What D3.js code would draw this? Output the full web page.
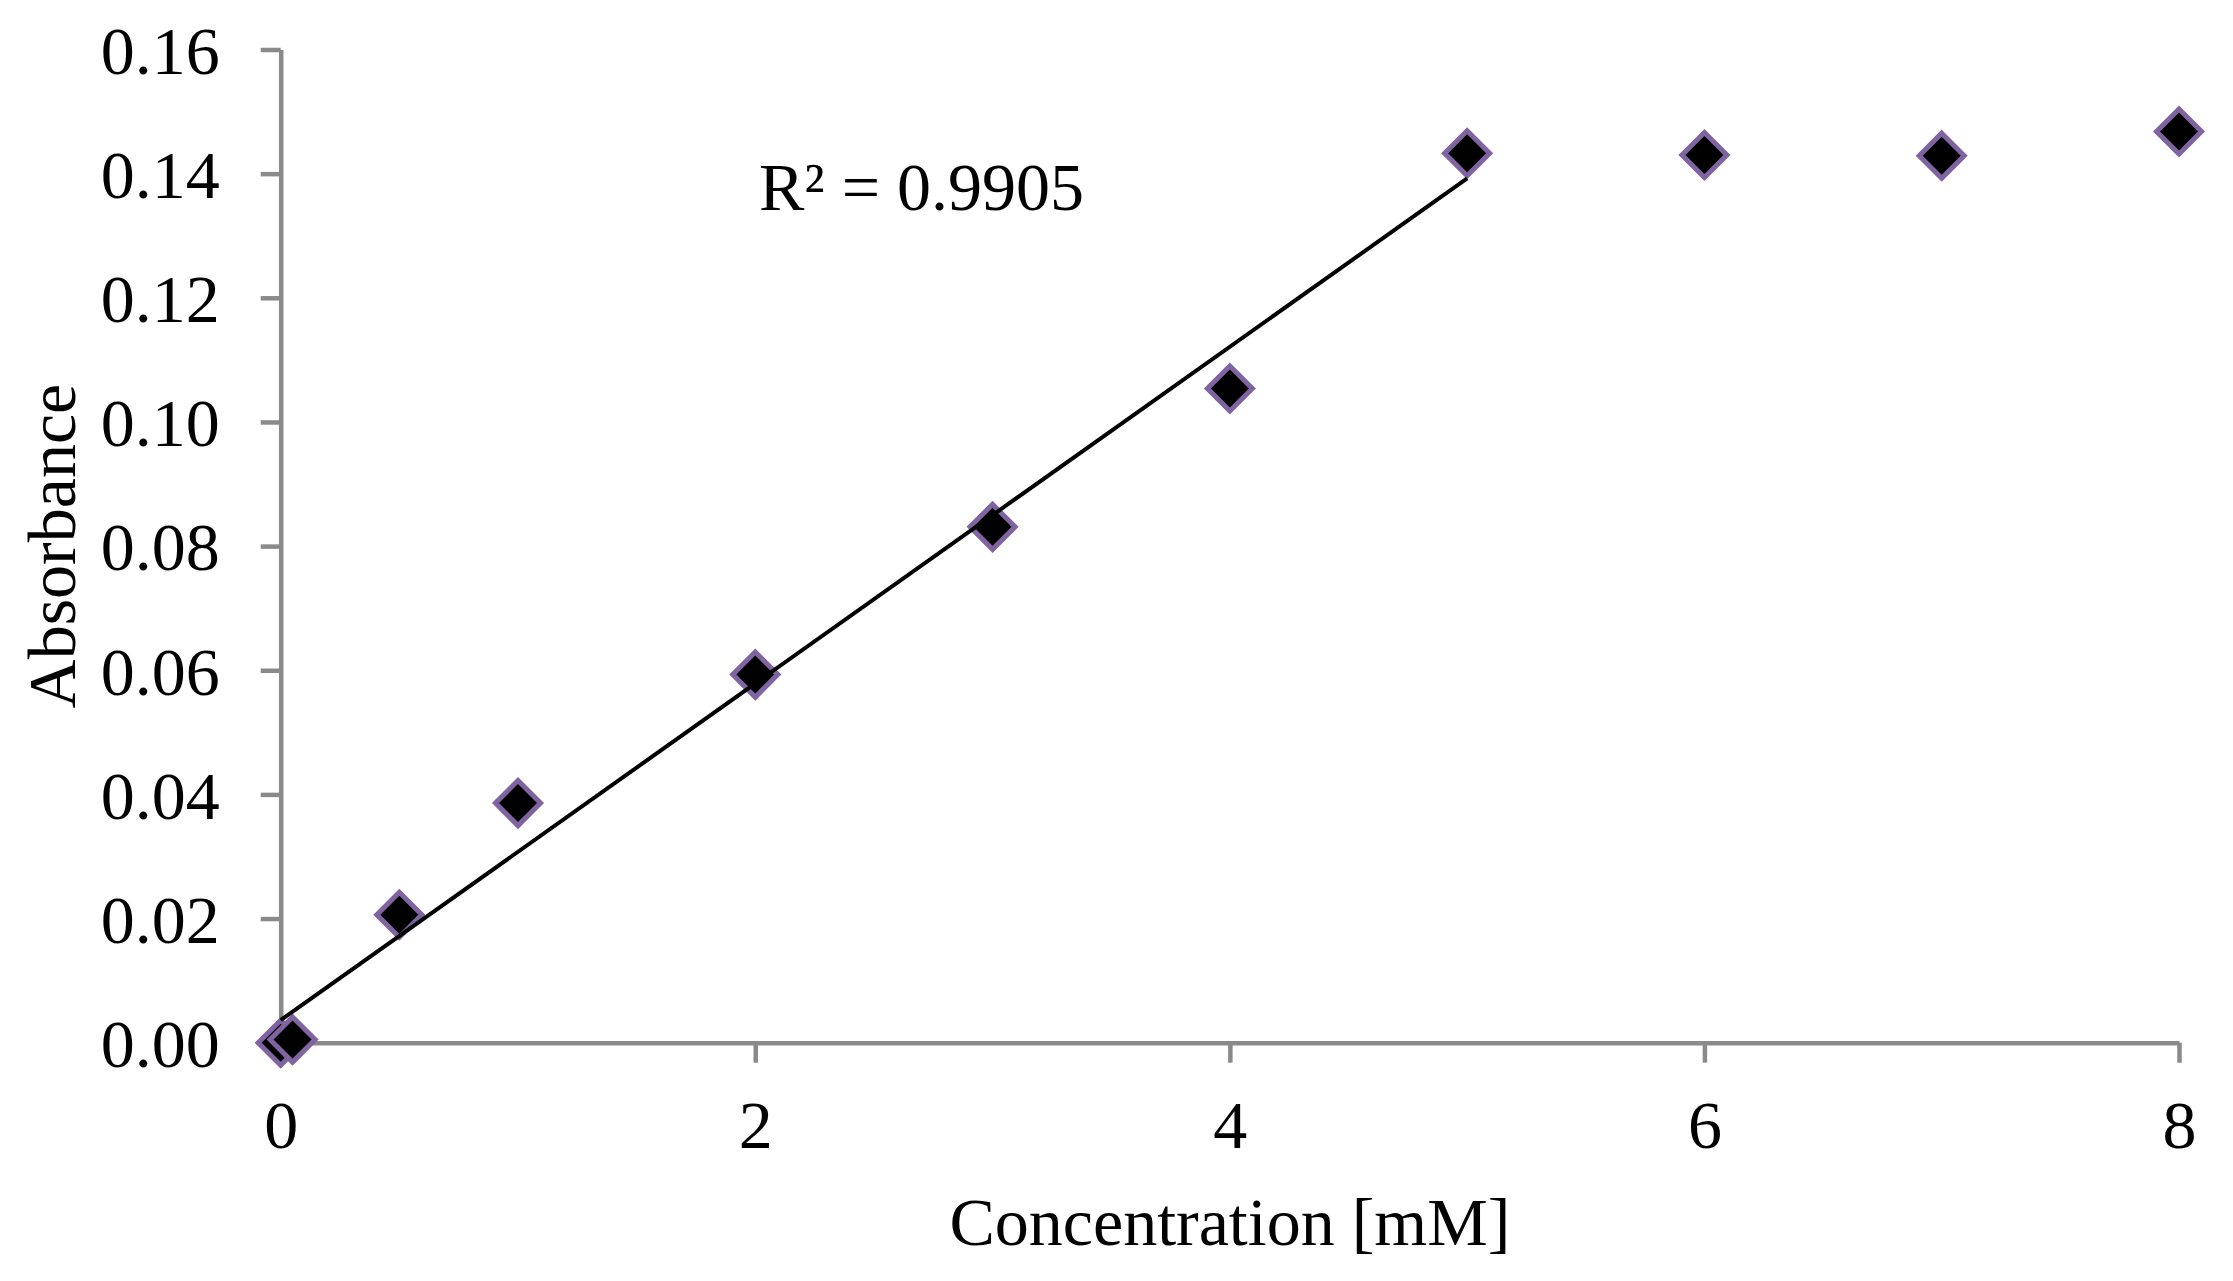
<!DOCTYPE html>
<html>
<head>
<meta charset="utf-8">
<script src="https://cdn.jsdelivr.net/npm/d3@7"></script>
<style>
  html, body { margin: 0; padding: 0; background: #ffffff; }
  svg { display: block; }
  text { font-family: "Liberation Serif", "Times New Roman", serif; fill: #000; }
</style>
</head>
<body>
<svg id="chart" width="2233" height="1281"></svg>
<script>
// ---- Data ----
const concentrations = [0, 0.05, 0.5, 1, 2, 3, 4, 5, 6, 7, 8];
const absorbances    = [0, 0.0005, 0.0206, 0.0386, 0.0593, 0.0831, 0.1054, 0.1433, 0.1430, 0.1429, 0.1468];
const fitMaxConcentration = 5;          // trendline fitted over the linear range
const xTickValues = [0, 2, 4, 6, 8];
const yTickValues = [0, 0.02, 0.04, 0.06, 0.08, 0.10, 0.12, 0.14, 0.16];
const xAxisTitle = "Concentration [mM]";
const yAxisTitle = "Absorbance";
const r2Label = "R² = 0.9905";

(function () {
// ---- Layout ----
const plotLeft = 280.7, plotRight = 2179, plotTop = 49.5, plotBottom = 1042.7;
const axisColor = "#8a8a8a";
const markerStroke = "#8064a2";
const fontSize = 68;

const svg = d3.select("#chart");

const x = d3.scaleLinear().domain([0, 8]).range([plotLeft, plotRight]);
const y = d3.scaleLinear().domain([0, 0.16]).range([plotBottom, plotTop]);

// Y axis
const yAxis = d3.axisLeft(y)
  .tickValues(yTickValues)
  .tickFormat(d3.format(".2f"))
  .tickSizeInner(20)
  .tickSizeOuter(0)
  .tickPadding(41);
const gy = svg.append("g").attr("transform", `translate(${plotLeft},0)`).call(yAxis);
gy.selectAll("path.domain").attr("stroke", axisColor).attr("stroke-width", 4.5);
gy.selectAll(".tick line").attr("stroke", axisColor).attr("stroke-width", 4.5);
gy.selectAll(".tick text")
  .attr("font-size", fontSize)
  .attr("font-family", "Liberation Serif")
  .attr("fill", "#000")
  .attr("dy", "0.35em");

// X axis
const xAxis = d3.axisBottom(x)
  .tickValues(xTickValues)
  .tickFormat(d3.format("d"))
  .tickSizeInner(20)
  .tickSizeOuter(0)
  .tickPadding(37);
const gx = svg.append("g").attr("transform", `translate(0,${plotBottom})`).call(xAxis);
gx.selectAll("path.domain").attr("stroke", axisColor).attr("stroke-width", 4.5);
gx.selectAll(".tick line").attr("stroke", axisColor).attr("stroke-width", 4.5);
gx.selectAll(".tick text")
  .attr("font-size", fontSize)
  .attr("font-family", "Liberation Serif")
  .attr("fill", "#000");

// Axis titles
svg.append("text")
  .attr("x", (plotLeft + plotRight) / 2)
  .attr("y", 1245)
  .attr("text-anchor", "middle")
  .attr("font-size", fontSize)
  .text(xAxisTitle);

svg.append("text")
  .attr("transform", `translate(75,${(plotTop + plotBottom) / 2}) rotate(-90)`)
  .attr("text-anchor", "middle")
  .attr("font-size", fontSize)
  .text(yAxisTitle);

// Markers
const points = concentrations.map((c, i) => ({ c, a: absorbances[i] }));
const half = 22.5;
const diamond = `M0,${-half}L${half},0L0,${half}L${-half},0Z`;
svg.append("g").selectAll("path")
  .data(points)
  .join("path")
  .attr("d", diamond)
  .attr("transform", d => `translate(${x(d.c)},${y(d.a)})`)
  .attr("fill", "#000")
  .attr("stroke", markerStroke)
  .attr("stroke-width", 5)
  .attr("stroke-linejoin", "miter");

// Linear trendline (least squares over the linear range)
const fitPts = points.filter(p => p.c <= fitMaxConcentration);
const mx = d3.mean(fitPts, p => p.c), my = d3.mean(fitPts, p => p.a);
const slope = d3.sum(fitPts, p => (p.c - mx) * (p.a - my)) / d3.sum(fitPts, p => (p.c - mx) ** 2);
const intercept = my - slope * mx;
const xs = d3.extent(fitPts, p => p.c);
svg.append("path")
  .datum(xs.map(c => ({ c, a: intercept + slope * c })))
  .attr("d", d3.line().x(d => x(d.c)).y(d => y(d.a)))
  .attr("fill", "none")
  .attr("stroke", "#000")
  .attr("stroke-width", 4);

// R² annotation
svg.append("text")
  .attr("x", 759)
  .attr("y", 210)
  .attr("font-size", fontSize)
  .text(r2Label);
})();
</script>
</body>
</html>
